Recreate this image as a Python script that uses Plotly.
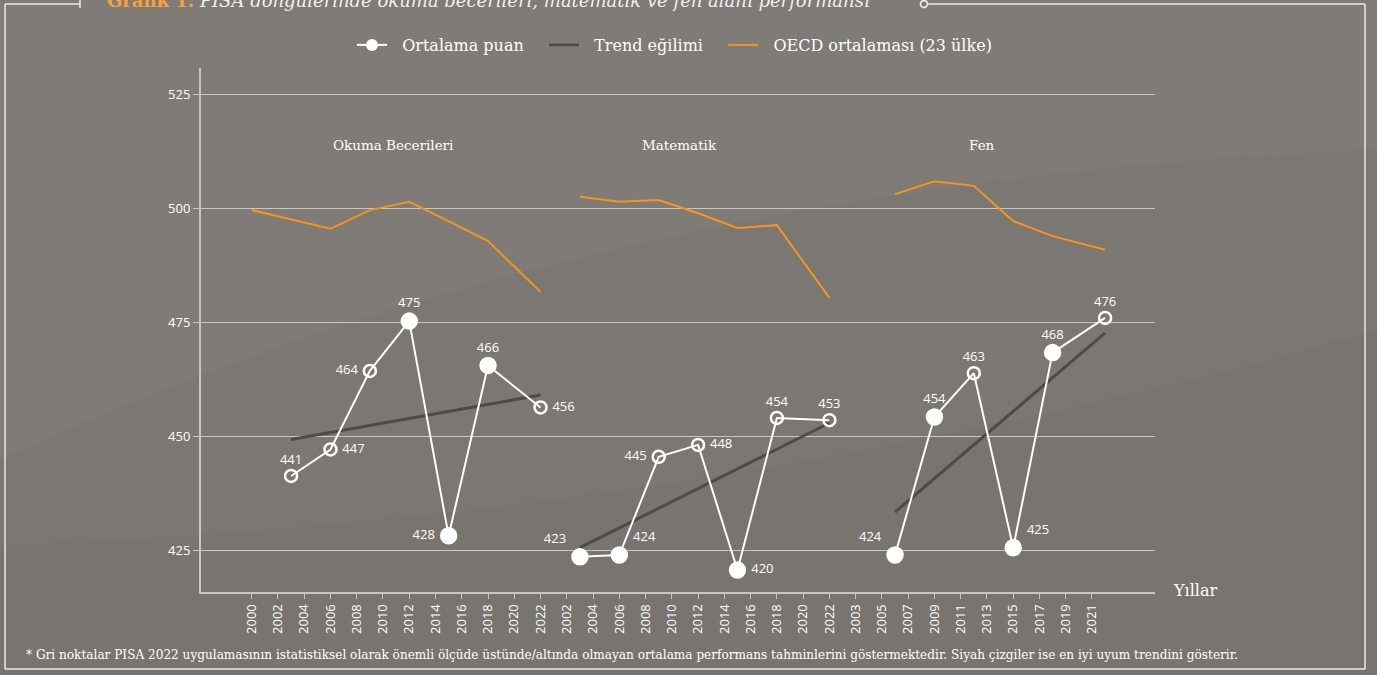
import plotly.graph_objects as go

# ---------------- data ----------------
ticks_okuma = [2000, 2002, 2004, 2006, 2008, 2010, 2012, 2014, 2016, 2018, 2020, 2022]
ticks_mat = [2002, 2004, 2006, 2008, 2010, 2012, 2014, 2016, 2018, 2020, 2022]
ticks_fen = [2003, 2005, 2007, 2009, 2011, 2013, 2015, 2017, 2019, 2021]

years_okuma = [2003, 2006, 2009, 2012, 2015, 2018, 2022]
score_okuma = [441.4, 447.2, 464.4, 475.3, 428.3, 465.6, 456.4]
label_okuma = ["441", "447", "464", "475", "428", "466", "456"]
sig_okuma = [False, False, False, True, True, True, False]

years_mat = [2003, 2006, 2009, 2012, 2015, 2018, 2022]
score_mat = [423.7, 424.1, 445.6, 448.2, 420.8, 454.1, 453.6]
label_mat = ["423", "424", "445", "448", "420", "454", "453"]
sig_mat = [True, True, False, False, True, False, False]

years_fen = [2006, 2009, 2012, 2015, 2018, 2022]
score_fen = [424.1, 454.3, 463.9, 425.7, 468.4, 476.0]
label_fen = ["424", "454", "463", "425", "468", "476"]
sig_fen = [True, True, False, True, True, False]

oecd_years_okuma = [2000, 2003, 2006, 2009, 2012, 2015, 2018, 2022]
oecd_okuma = [499.6, 497.6, 495.5, 499.6, 501.4, 497.2, 492.8, 481.7]
oecd_years_mat = [2003, 2006, 2009, 2012, 2015, 2018, 2022]
oecd_mat = [502.5, 501.4, 501.8, 498.9, 495.7, 496.3, 480.4]
oecd_years_fen = [2006, 2009, 2012, 2015, 2018, 2022]
oecd_fen = [503.1, 505.9, 504.9, 497.2, 493.9, 490.9]

trend_years_okuma = [2003, 2022]
trend_okuma = [449.4, 459.1]
trend_years_mat = [2003, 2022]
trend_mat = [425.7, 453.0]
trend_years_fen = [2006, 2022]
trend_fen = [433.5, 472.7]

pos_okuma = ["top center", "middle right", "middle left", "top center", "middle left", "top center", "middle right"]
pos_mat = ["top left", "top right", "middle left", "middle right", "middle right", "top center", "top center"]
pos_fen = ["top left", "top center", "top center", "top right", "top center", "top center"]

# group start index and base year on the categorical-like axis
GROUPS = {"okuma": (0, 2000), "mat": (len(ticks_okuma), 2002), "fen": (len(ticks_okuma) + len(ticks_mat), 2003)}


def xpos(group, years):
    start, base = GROUPS[group]
    return [start + (y - base) / 2 for y in years]


tick_labels = [str(t) for t in ticks_okuma + ticks_mat + ticks_fen]
tick_vals = list(range(len(tick_labels)))

# ---------------- style ----------------
BG = "#7b7772"
GRID = "#c9c6c1"
WHITE = "#ffffff"
ORANGE = "#f7941d"
TREND = "#4b4b4b"
SERIF = "DejaVu Serif"
SANS = "Open Sans"
PAD = "\u00a0\u00a0\u00a0"
LPAD = "\u00a0\u00a0"

PL, PR, PT, PB = 201, 1155, 68, 592


def px(x):
    return (x - PL) / (PR - PL)


def py(y):
    return (PB - y) / (PB - PT)


fig = go.Figure()

# legend-only entries
fig.add_trace(go.Scatter(x=[None], y=[None], mode="lines+markers", name=LPAD + "Ortalama puan" + PAD,
                         line=dict(color=WHITE, width=2), marker=dict(color=WHITE, size=12, opacity=1)))
fig.add_trace(go.Scatter(x=[None], y=[None], mode="lines", name=LPAD + "Trend eğilimi" + PAD,
                         line=dict(color=TREND, width=2.5)))
fig.add_trace(go.Scatter(x=[None], y=[None], mode="lines", name=LPAD + "OECD ortalaması (23 ülke)",
                         line=dict(color=ORANGE, width=2)))

for g, oy, ov in [("okuma", oecd_years_okuma, oecd_okuma), ("mat", oecd_years_mat, oecd_mat),
                  ("fen", oecd_years_fen, oecd_fen)]:
    fig.add_trace(go.Scatter(x=xpos(g, oy), y=ov, mode="lines", showlegend=False,
                             line=dict(color=ORANGE, width=2), hoverinfo="skip"))

for g, ty, tv in [("okuma", trend_years_okuma, trend_okuma), ("mat", trend_years_mat, trend_mat),
                  ("fen", trend_years_fen, trend_fen)]:
    fig.add_trace(go.Scatter(x=xpos(g, ty), y=tv, mode="lines", showlegend=False,
                             line=dict(color=TREND, width=3), hoverinfo="skip"))

for g, yy, sv, lb, sg, tp in [("okuma", years_okuma, score_okuma, label_okuma, sig_okuma, pos_okuma),
                              ("mat", years_mat, score_mat, label_mat, sig_mat, pos_mat),
                              ("fen", years_fen, score_fen, label_fen, sig_fen, pos_fen)]:
    fig.add_trace(go.Scatter(
        x=xpos(g, yy), y=sv, mode="lines+markers+text", showlegend=False,
        text=[" " + t + " " for t in lb], textposition=tp,
        textfont=dict(family=SANS, size=13, color=WHITE),
        line=dict(color=WHITE, width=2),
        marker=dict(symbol=["circle" if s else "circle-open" for s in sg],
                    size=[15 if s else 12 for s in sg], color=WHITE, opacity=1,
                    line=dict(color=WHITE, width=2.5)),
        cliponaxis=False,
    ))

# ---------------- shapes (frame + background swoosh) ----------------
LC = "#ebe9e6"
shapes = [
    dict(type="path", xref="paper", yref="paper", layer="below", line=dict(width=0),
         fillcolor="rgba(255,255,255,0.035)",
         path=f"M {px(0)} {py(460)} Q {px(600)} {py(180)} {px(1377)} {py(150)} L {px(1377)} {py(0)} L {px(0)} {py(0)} Z"),
    dict(type="path", xref="paper", yref="paper", layer="below", line=dict(width=0),
         fillcolor="rgba(0,0,0,0.025)",
         path=f"M {px(0)} {py(545)} Q {px(700)} {py(520)} {px(1377)} {py(330)} L {px(1377)} {py(675)} L {px(0)} {py(675)} Z"),
    dict(type="line", xref="paper", yref="paper", x0=px(5), x1=px(80), y0=py(4), y1=py(4), line=dict(color=LC, width=1.5)),
    dict(type="line", xref="paper", yref="paper", x0=px(80), x1=px(80), y0=py(-1), y1=py(8), line=dict(color=LC, width=1.5)),
    dict(type="line", xref="paper", yref="paper", x0=px(5), x1=px(5), y0=py(4), y1=py(669), line=dict(color=LC, width=1.5)),
    dict(type="line", xref="paper", yref="paper", x0=px(5), x1=px(1365), y0=py(669), y1=py(669), line=dict(color=LC, width=1.5)),
    dict(type="line", xref="paper", yref="paper", x0=px(928), x1=px(1365), y0=py(4), y1=py(4), line=dict(color=LC, width=1.5)),
    dict(type="line", xref="paper", yref="paper", x0=px(1365), x1=px(1365), y0=py(4), y1=py(669), line=dict(color=LC, width=1.5)),
    dict(type="circle", xref="paper", yref="paper", x0=px(920.5), x1=px(927.5), y0=py(0.5), y1=py(7.5),
         line=dict(color=LC, width=1.8), fillcolor=BG),
]

annotations = [
    dict(xref="paper", yref="paper", x=px(105), y=py(13), xanchor="left", yanchor="bottom", showarrow=False,
         text="<b><span style='color:#f7a13a'>Grafik 1.</span></b> <i>PISA döngülerinde okuma becerileri, matematik ve fen alanı performansı</i>",
         font=dict(family=SERIF, size=18, color="#f2f0ec")),
    dict(xref="paper", yref="paper", x=px(24), y=py(655), xanchor="left", yanchor="middle", showarrow=False,
         text="* Gri noktalar PISA 2022 uygulamasının istatistiksel olarak önemli ölçüde üstünde/altında olmayan ortalama performans tahminlerini göstermektedir. Siyah çizgiler ise en iyi uyum trendini gösterir.",
         font=dict(family=SERIF, size=12.1, color=WHITE)),
    dict(xref="paper", yref="paper", x=px(1171), y=py(590), xanchor="left", yanchor="middle", showarrow=False,
         text="Yıllar", font=dict(family=SERIF, size=16, color=WHITE)),
    dict(xref="paper", yref="paper", x=px(393), y=py(145), xanchor="center", yanchor="middle", showarrow=False,
         text="Okuma Becerileri", font=dict(family=SERIF, size=13.5, color=WHITE)),
    dict(xref="paper", yref="paper", x=px(679), y=py(145), xanchor="center", yanchor="middle", showarrow=False,
         text="Matematik", font=dict(family=SERIF, size=13.5, color=WHITE)),
    dict(xref="paper", yref="paper", x=px(982), y=py(145), xanchor="center", yanchor="middle", showarrow=False,
         text="Fen", font=dict(family=SERIF, size=13.5, color=WHITE)),
]

fig.update_layout(
    width=1377, height=675,
    paper_bgcolor=BG, plot_bgcolor="rgba(0,0,0,0)",
    margin=dict(l=PL, r=1377 - PR, t=PT, b=675 - PB, pad=0),
    showlegend=True,
    legend=dict(orientation="h", x=px(352), xanchor="left", y=py(45), yanchor="middle",
                font=dict(family=SERIF, size=16, color=WHITE), bgcolor="rgba(0,0,0,0)",
                tracegroupgap=0),
    shapes=shapes, annotations=annotations,
    xaxis=dict(range=[-1.93, 34.4], tickmode="array", tickvals=tick_vals, ticktext=tick_labels,
               tickangle=-90, tickfont=dict(family=SANS, size=13, color=WHITE),
               showgrid=False, zeroline=False, showline=True, linecolor=GRID, linewidth=2,
               ticks="outside", ticklen=5, tickcolor=GRID, tickwidth=1),
    yaxis=dict(range=[416.0, 530.7], tickmode="array", tickvals=[425, 450, 475, 500, 525],
               tickfont=dict(family=SANS, size=13, color=WHITE),
               showgrid=True, gridcolor=GRID, gridwidth=1, zeroline=False,
               showline=True, linecolor=GRID, linewidth=2,
               ticks="outside", ticklen=6, tickcolor=GRID, tickwidth=1),
)

fig.write_html("out.html", config={"displayModeBar": False},
               post_script="document.body.style.margin='0';document.body.style.background='" + BG + "';")
